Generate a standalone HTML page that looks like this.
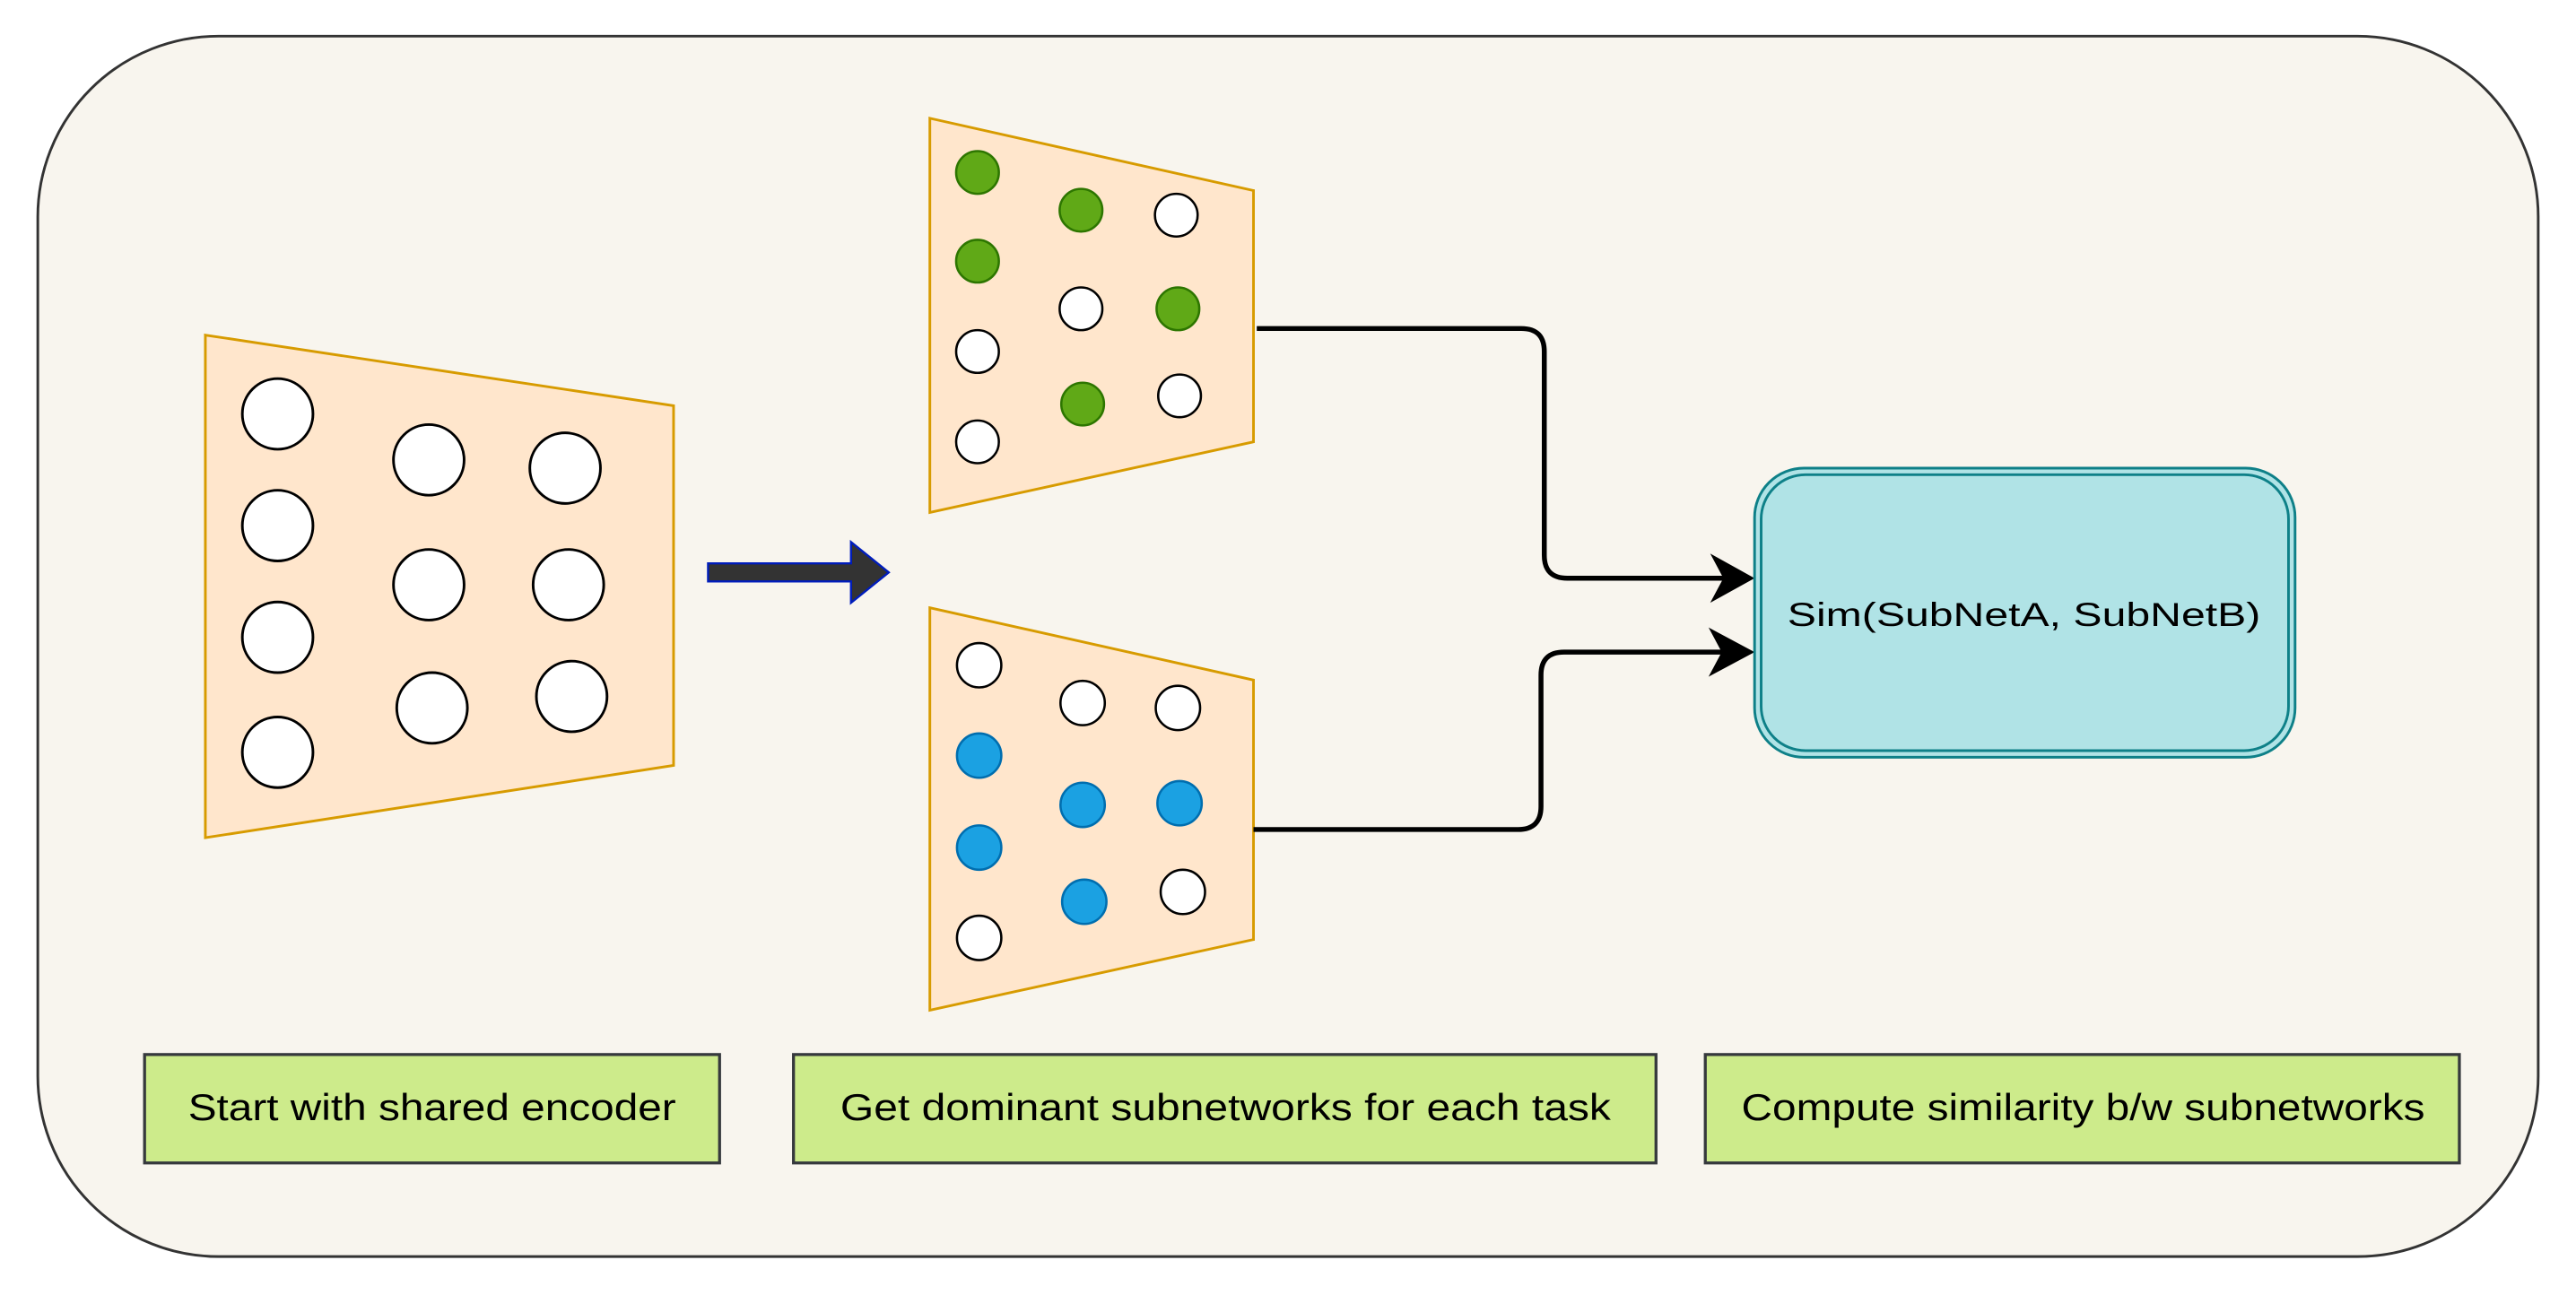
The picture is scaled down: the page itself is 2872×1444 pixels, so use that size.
<!DOCTYPE html>
<html><head><meta charset="utf-8"><style>html,body{margin:0;padding:0;background:#fff}svg{display:block}</style></head>
<body>
<svg width="2872" height="1444" viewBox="0 0 1568 788.4" preserveAspectRatio="none" xmlns="http://www.w3.org/2000/svg" font-family="'Liberation Sans', sans-serif">
<rect x="23" y="22" width="1522" height="743" rx="110" ry="110" fill="#f8f5ee" stroke="#333" stroke-width="1.6"/>
<polygon points="125,204 410,247 410,466 125,510" fill="#ffe6cc" stroke="#d79b00" stroke-width="1.6"/>
<g fill="#fff" stroke="#000" stroke-width="1.6">
<circle cx="169" cy="252" r="21.5"/><circle cx="169" cy="320" r="21.5"/><circle cx="169" cy="388" r="21.5"/><circle cx="169" cy="458" r="21.5"/>
<circle cx="261" cy="280" r="21.5"/><circle cx="261" cy="356" r="21.5"/><circle cx="263" cy="431" r="21.5"/>
<circle cx="344" cy="285" r="21.5"/><circle cx="346" cy="356" r="21.5"/><circle cx="348" cy="424" r="21.5"/>
</g>
<polygon points="431,343 518,343 518,330 541,348.5 518,367 518,354 431,354" fill="#333" stroke="#001dbc" stroke-width="1.3"/>
<polygon points="566,72 763,116 763,269 566,312" fill="#ffe6cc" stroke="#d79b00" stroke-width="1.6"/>
<polygon points="566,370 763,414 763,572 566,615" fill="#ffe6cc" stroke="#d79b00" stroke-width="1.6"/>
<g stroke-width="1.4">
<circle cx="595" cy="105" r="13" fill="#60a917" stroke="#2d7600"/>
<circle cx="595" cy="159" r="13" fill="#60a917" stroke="#2d7600"/>
<circle cx="595" cy="214" r="13" fill="#fff" stroke="#000"/>
<circle cx="595" cy="269" r="13" fill="#fff" stroke="#000"/>
<circle cx="658" cy="128" r="13" fill="#60a917" stroke="#2d7600"/>
<circle cx="658" cy="188" r="13" fill="#fff" stroke="#000"/>
<circle cx="659" cy="246" r="13" fill="#60a917" stroke="#2d7600"/>
<circle cx="716" cy="131" r="13" fill="#fff" stroke="#000"/>
<circle cx="717" cy="188" r="13" fill="#60a917" stroke="#2d7600"/>
<circle cx="718" cy="241" r="13" fill="#fff" stroke="#000"/>
<circle cx="596" cy="405" r="13.5" fill="#fff" stroke="#000"/>
<circle cx="596" cy="460" r="13.5" fill="#1ba1e2" stroke="#006eaf"/>
<circle cx="596" cy="516" r="13.5" fill="#1ba1e2" stroke="#006eaf"/>
<circle cx="596" cy="571" r="13.5" fill="#fff" stroke="#000"/>
<circle cx="659" cy="428" r="13.5" fill="#fff" stroke="#000"/>
<circle cx="659" cy="490" r="13.5" fill="#1ba1e2" stroke="#006eaf"/>
<circle cx="660" cy="549" r="13.5" fill="#1ba1e2" stroke="#006eaf"/>
<circle cx="717" cy="431" r="13.5" fill="#fff" stroke="#000"/>
<circle cx="718" cy="489" r="13.5" fill="#1ba1e2" stroke="#006eaf"/>
<circle cx="720" cy="543" r="13.5" fill="#fff" stroke="#000"/>
</g>
<g fill="none" stroke="#000" stroke-width="3">
<path d="M765,200 H926 Q940,200 940,214 V338 Q940,352 954,352 H1055"/>
<path d="M763,505 H924 Q938,505 938,491 V411 Q938,397 952,397 H1055"/>
</g>
<polygon points="1041,337 1068,352 1041,367 1049,352" fill="#000"/>
<polygon points="1040,382 1068,397 1040,412 1048,397" fill="#000"/>
<rect x="1068" y="285" width="329" height="176" rx="30" fill="#b0e3e6" stroke="#0e8088" stroke-width="1.6"/>
<rect x="1072" y="289" width="321" height="168" rx="27" fill="none" stroke="#0e8088" stroke-width="1.6"/>
<text x="1232" y="381" font-size="20" text-anchor="middle" textLength="288" lengthAdjust="spacingAndGlyphs">Sim(SubNetA, SubNetB)</text>
<g fill="#cdeb8b" stroke="#36393d" stroke-width="1.8">
<rect x="88" y="642" width="350" height="66"/>
<rect x="483" y="642" width="525" height="66"/>
<rect x="1038" y="642" width="459" height="66"/>
</g>
<g font-size="23" text-anchor="middle">
<text x="263" y="682" textLength="297" lengthAdjust="spacingAndGlyphs">Start with shared encoder</text>
<text x="746" y="682" textLength="469" lengthAdjust="spacingAndGlyphs">Get dominant subnetworks for each task</text>
<text x="1268" y="682" textLength="416" lengthAdjust="spacingAndGlyphs">Compute similarity b/w subnetworks</text>
</g>
</svg>
</body></html>
